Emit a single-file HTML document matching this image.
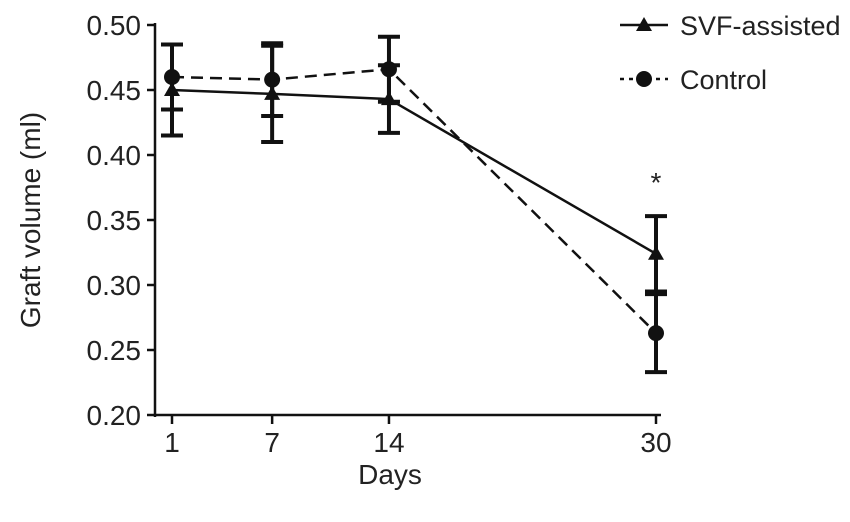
<!DOCTYPE html>
<html><head><meta charset="utf-8"><style>
html,body{margin:0;padding:0;background:#fff;}
svg{display:block;font-family:"Liberation Sans",Arial,sans-serif;}
</style></head><body>
<svg id="chart" width="850" height="522"></svg>
<script>
const days=[1,7,14,30];
const svfValues=[0.450,0.447,0.443,0.324];
const svfErrors=[0.035,0.037,0.026,0.029];
const controlValues=[0.460,0.458,0.466,0.263];
const controlErrors=[0.025,0.028,0.025,0.030];
const yTicks=[0.20,0.25,0.30,0.35,0.40,0.45,0.50];
const xTicks=[1,7,14,30];

const NS="http://www.w3.org/2000/svg";
const svg=document.getElementById('chart');
function X(d){return 172+(d-1)*(656-172)/29;}
function Y(v){return 415-(v-0.2)*1300;}
function mk(tag,attrs,parent){const e=document.createElementNS(NS,tag);for(const k in attrs)e.setAttribute(k,attrs[k]);(parent||svg).appendChild(e);return e;}

let ya=mk('line',{x1:155,y1:Y(0.5)-2,x2:155,y2:417,stroke:'#111','stroke-width':2.5});


let xa=mk('line',{x1:154,y1:415,x2:661,y2:415,stroke:'#111','stroke-width':2.5});


yTicks.forEach(t=>{
  const l=mk('line',{x1:147,y1:Y(t),x2:155,y2:Y(t),stroke:'#111','stroke-width':2.5});
  
  
  const tx=mk('text',{x:141,y:Y(t)+10,'text-anchor':'end','font-size':28,fill:'#222'});
  tx.textContent=t.toFixed(2);
  
  
});
xTicks.forEach(t=>{
  const l=mk('line',{x1:X(t),y1:415,x2:X(t),y2:424,stroke:'#111','stroke-width':2.5});
  
  
  const tx=mk('text',{x:X(t),y:452,'text-anchor':'middle','font-size':28,fill:'#222'});
  tx.textContent=t;
  
  
});
let xt=mk('text',{x:390,y:484,'text-anchor':'middle','font-size':28,fill:'#222'});
xt.textContent='Days';


let yt=mk('text',{x:0,y:0,'text-anchor':'middle','font-size':28,fill:'#222',transform:'translate(40,220) rotate(-90)'});
yt.textContent='Graft  volume (ml)';



function series(vals,errs,dash,marker,name){
  const g=mk('g',{});
  
  
  errs.forEach((e,i)=>{
    const x=X(days[i]);
    mk('line',{x1:x,y1:Y(vals[i]+e),x2:x,y2:Y(vals[i]-e),stroke:'#111','stroke-width':4},g);
    [vals[i]+e,vals[i]-e].forEach(v=>{
      const c=mk('line',{x1:x-11,y1:Y(v),x2:x+11,y2:Y(v),stroke:'#111','stroke-width':4},g);
      
    });
  });
  const pts=vals.map((v,i)=>X(days[i])+','+Y(v)).join(' ');
  const pl=mk('polyline',{points:pts,fill:'none',stroke:'#111','stroke-width':2.5,'stroke-dasharray':dash},g);
  
  vals.forEach((v,i)=>{
    const x=X(days[i]),y=Y(v);
    let m;
    if(marker==='tri') m=mk('polygon',{points:`${x},${y-8} ${x-8},${y+6} ${x+8},${y+6}`,fill:'#111'},g);
    else m=mk('circle',{cx:x,cy:y,r:8,fill:'#111'},g);
    
    
  });
}
series(controlValues,controlErrors,'12,7','circ','control');
series(svfValues,svfErrors,'','tri','svf');

let st=mk('text',{x:656,y:192,'text-anchor':'middle','font-size':28,fill:'#222'});
st.textContent='*';



const lg=mk('g',{});


mk('line',{x1:620,y1:25,x2:668,y2:25,stroke:'#111','stroke-width':2.5},lg);
mk('polygon',{points:'644,17 636,31 652,31',fill:'#111'},lg);
let l1=mk('text',{x:680,y:35,'font-size':27,fill:'#222'},lg);
l1.textContent='SVF-assisted';


mk('line',{x1:620,y1:79,x2:668,y2:79,stroke:'#111','stroke-width':2.5,'stroke-dasharray':'4,5'},lg);
mk('circle',{cx:644,cy:79,r:8,fill:'#111'},lg);
let l2=mk('text',{x:680,y:89,'font-size':27,fill:'#222'},lg);
l2.textContent='Control';


</script>
</body></html>
